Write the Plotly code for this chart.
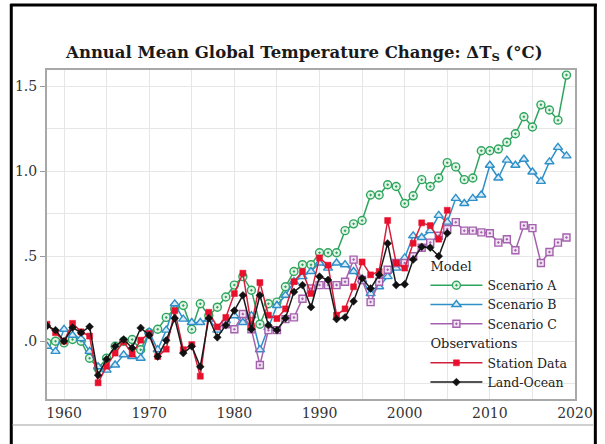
import plotly.graph_objects as go

years_model = list(range(1958, 2020))
scenario_a = [-0.01, 0.00, -0.01, 0.01, 0.00, -0.10, -0.16, -0.10, -0.03, 0.00,
              0.01, -0.05, 0.05, 0.07, 0.14, 0.19, 0.21, 0.07, 0.22, 0.15,
              0.20, 0.26, 0.33, 0.38, 0.30, 0.10, 0.22, 0.23, 0.32, 0.41,
              0.45, 0.45, 0.52, 0.52, 0.52, 0.65, 0.69, 0.71, 0.86, 0.86,
              0.92, 0.91, 0.81, 0.855, 0.95, 0.91, 0.96, 1.05, 1.025, 0.95,
              0.96, 1.12, 1.12, 1.13, 1.17, 1.22, 1.32, 1.26, 1.39, 1.36,
              1.30, 1.565]
scenario_b = [-0.03, -0.06, 0.07, 0.035, 0.015, -0.06, -0.15, -0.17, -0.14, -0.08,
              -0.09, -0.10, 0.055, -0.05, 0.065, 0.22, 0.13, 0.11, 0.11, 0.13,
              0.065, 0.12, 0.15, 0.11, 0.15, -0.05, 0.08, 0.21, 0.27, 0.35,
              0.38, 0.41, 0.46, 0.43, 0.46, 0.45, 0.41, 0.36, 0.28, 0.32,
              0.38, 0.43, 0.49, 0.62, 0.61, 0.65, 0.74, 0.70, 0.84, 0.81,
              0.84, 0.86, 1.035, 0.96, 1.065, 1.035, 1.07, 0.995, 0.94, 1.055,
              1.14, 1.09]
years_c = list(range(1979, 2020))
scenario_c = [0.10, 0.07, 0.16, 0.07, -0.14, 0.065, 0.065, 0.13, 0.14, 0.25,
              0.31, 0.33, 0.33, 0.33, 0.35, 0.48, 0.36, 0.23, 0.35, 0.42,
              0.46, 0.46, 0.50, 0.55, 0.58, 0.62, 0.66, 0.70, 0.65, 0.65,
              0.64, 0.635, 0.58, 0.60, 0.535, 0.68, 0.665, 0.46, 0.525, 0.58,
              0.61]
years_obs = list(range(1958, 2006))
station_data = [0.10, 0.05, 0.00, 0.105, 0.055, 0.03, -0.245, -0.147, -0.07, -0.004,
                -0.076, 0.006, 0.045, -0.09, -0.047, 0.18, -0.05, -0.02, -0.206, 0.17,
                0.084, 0.14, 0.28, 0.40, 0.09, 0.345, 0.153, 0.133, 0.19, 0.35,
                0.41, 0.28, 0.49, 0.447, 0.153, 0.19, 0.32, 0.466, 0.39, 0.41,
                0.71, 0.46, 0.43, 0.576, 0.696, 0.68, 0.60, 0.77]
land_ocean = [0.09, 0.065, 0.00, 0.08, 0.05, 0.085, -0.20, -0.106, -0.03, 0.01,
              -0.04, 0.078, 0.035, -0.09, 0.005, 0.135, -0.07, -0.03, -0.15, 0.135,
              0.023, 0.094, 0.18, 0.27, 0.07, 0.27, 0.094, 0.065, 0.135, 0.29,
              0.33, 0.20, 0.38, 0.36, 0.13, 0.14, 0.235, 0.37, 0.31, 0.39,
              0.575, 0.33, 0.335, 0.48, 0.555, 0.55, 0.50, 0.635]

x_ticks = [1960, 1970, 1980, 1990, 2000, 2010, 2020]
y_tickvals = [0.0, 0.5, 1.0, 1.5]
y_ticktext = [".0", ".5", "1.0", "1.5"]

FONT = "DejaVu Serif"
LEG_FS = 12.5
GRP_FS = 13
fig = go.Figure()

fig.add_trace(go.Scatter(
    x=years_model, y=scenario_a, mode="lines+markers", name="Scenario A",
    legendgroup="model", legendgrouptitle=dict(text="Model", font=dict(size=GRP_FS, family=FONT, color="#222")),
    line=dict(color="#2ea55c", width=1.5),
    marker=dict(symbol="circle-dot", size=8, color="#e4f4e8", line=dict(color="#2ea55c", width=1.4))))
fig.add_trace(go.Scatter(
    x=years_model, y=scenario_b, mode="lines+markers", name="Scenario B",
    legendgroup="model",
    line=dict(color="#2f8fc8", width=1.5),
    marker=dict(symbol="triangle-up", size=8, color="#d8ecf7", line=dict(color="#2f8fc8", width=1.4))))
fig.add_trace(go.Scatter(
    x=years_c, y=scenario_c, mode="lines+markers", name="Scenario C",
    legendgroup="model",
    line=dict(color="#a461ad", width=1.5),
    marker=dict(symbol="square-dot", size=7, color="#f1e4f3", line=dict(color="#a461ad", width=1.4))))
fig.add_trace(go.Scatter(
    x=years_obs, y=station_data, mode="lines+markers", name="Station Data",
    legendgroup="obs", legendgrouptitle=dict(text="Observations", font=dict(size=GRP_FS, family=FONT, color="#222")),
    line=dict(color="#d41f3a", width=1.5),
    marker=dict(symbol="square", size=6, color="#e8102c", line=dict(color="#e8102c", width=0.5))))
fig.add_trace(go.Scatter(
    x=years_obs, y=land_ocean, mode="lines+markers", name="Land-Ocean",
    legendgroup="obs",
    line=dict(color="#1a1a1a", width=1.5),
    marker=dict(symbol="diamond", size=6, color="#111111", line=dict(color="#111111", width=0.5))))

# plot area in pixels: x 47..579, y 70..399
PL, PR, PT, PB = 47, 579, 70, 399
W, H = PR - PL, PB - PT

def px(xp):
    return (xp - PL) / W

def py(yp):
    return (PB - yp) / H

shapes = [
    # white panel behind the legend (hides the grid there)
    dict(type="rect", xref="paper", yref="paper", x0=px(415), x1=1, y0=0, y1=py(268),
         fillcolor="white", line=dict(width=0), layer="between"),
    dict(type="line", xref="paper", yref="paper", x0=px(11), x1=px(11), y0=py(4), y1=py(460),
         line=dict(color="black", width=3)),
    dict(type="line", xref="paper", yref="paper", x0=px(599.5), x1=px(599.5), y0=py(4), y1=py(460),
         line=dict(color="black", width=3)),
    dict(type="line", xref="paper", yref="paper", x0=px(10), x1=px(601), y0=py(5), y1=py(5),
         line=dict(color="black", width=3)),
    dict(type="line", xref="paper", yref="paper", x0=px(12.5), x1=px(598), y0=py(425), y1=py(425),
         line=dict(color="#d0d0d0", width=2)),
]

fig.update_layout(
    width=605, height=444,
    margin=dict(l=PL, r=605 - PR, t=PT, b=444 - PB),
    paper_bgcolor="white", plot_bgcolor="white",
    font=dict(family=FONT, size=14, color="#333"),
    title=dict(text="Annual Mean Global Temperature Change: ΔT<sub>S</sub> (°C)",
               x=0.503, xanchor="center", y=1 - 52 / 444, yanchor="middle",
               font=dict(family=FONT, size=16.5, color="#1a1a1a", weight="bold")),
    shapes=shapes,
    showlegend=True,
    legend=dict(x=0.997, y=0.004, xanchor="right", yanchor="bottom",
                bgcolor="rgba(0,0,0,0)", borderwidth=0, tracegroupgap=0,
                traceorder="grouped", itemwidth=52,
                font=dict(family=FONT, size=LEG_FS, color="#222")),
)
fig.update_xaxes(range=[1958, 2020], tickvals=x_ticks, ticks="",
                 showgrid=True, gridcolor="#e6e6e6", gridwidth=1,
                 minor=dict(dtick=5, tick0=1960, showgrid=True, gridcolor="#e6e6e6"),
                 showline=True, linecolor="#a8a8a8", linewidth=2, mirror=True,
                 zeroline=False, tickfont=dict(family=FONT, size=14, color="#333"))
fig.update_yaxes(range=[-0.34, 1.595], tickvals=y_tickvals, ticktext=y_ticktext,
                 ticks="outside", ticklen=5, tickcolor="#999", tickwidth=1,
                 showgrid=True, gridcolor="#e6e6e6", gridwidth=1,
                 minor=dict(dtick=0.25, tick0=0, showgrid=True, gridcolor="#e6e6e6"),
                 showline=True, linecolor="#a8a8a8", linewidth=2, mirror=True,
                 zeroline=False, tickfont=dict(family=FONT, size=14, color="#333"))

fig.write_html("out.html", config={"displayModeBar": False},
               post_script="document.body.style.margin='0';document.body.style.overflow='hidden';")
